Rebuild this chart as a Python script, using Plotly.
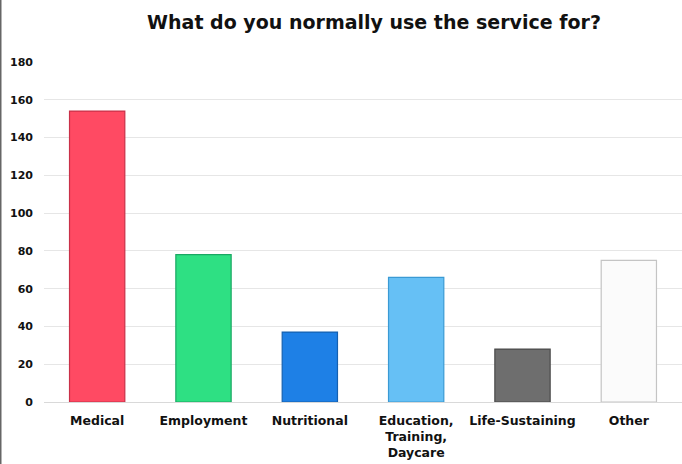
import plotly.graph_objects as go

categories = ["Medical", "Employment", "Nutritional", "Education,<br>Training,<br>Daycare", "Life-Sustaining", "Other"]
values = [154, 78, 37, 66, 28, 75]
colors = ["#ff4a63", "#2ee083", "#1e80e6", "#66c0f5", "#6e6e6e", "#fbfbfb"]
borders = ["#c93048", "#1aa863", "#1560b0", "#3a9ad4", "#4a4a4a", "#c4c4c4"]
y_ticks = [0, 20, 40, 60, 80, 100, 120, 140, 160, 180]

fig = go.Figure(go.Bar(
    x=categories, y=values,
    marker=dict(color=colors, line=dict(color=borders, width=1.2)),
    width=0.52,
))

W, H = 682, 464
ml, mt, mb = 44, 62, 62
fig.update_layout(
    width=W, height=H,
    margin=dict(l=ml, r=0, t=mt, b=mb, autoexpand=False),
    paper_bgcolor="white", plot_bgcolor="white",
    font=dict(family="DejaVu Sans", color="#111111"),
    title=dict(text="<b>What do you normally use the service for?</b>",
               x=374 / W, xanchor="center", y=1 - 22 / H, yanchor="middle",
               font=dict(size=19, family="DejaVu Sans", color="#111111")),
    showlegend=False,
    xaxis=dict(tickfont=dict(size=12.5, family="DejaVu Sans"),
               showline=False, ticks="", showgrid=False,
               ticklabelstandoff=9, automargin=False),
    yaxis=dict(range=[0, 180], tickvals=y_ticks,
               ticktext=[f"<b>{v}</b>" for v in y_ticks],
               tickfont=dict(size=11, family="DejaVu Sans"),
               showgrid=True, gridcolor="#e6e6e6", gridwidth=1,
               zeroline=True, zerolinecolor="#d9d9d9", zerolinewidth=1,
               ticks="", ticklabelstandoff=10, automargin=False),
    shapes=[dict(type="line", xref="paper", yref="paper",
                 x0=-(ml - 0.75) / (W - ml), x1=-(ml - 0.75) / (W - ml),
                 y0=-mb / (H - mt - mb), y1=1 + mt / (H - mt - mb),
                 line=dict(color="#666666", width=1.5))],
)
fig.update_xaxes(ticktext=[f"<b>{c}</b>" for c in categories], tickvals=categories)

fig.write_html("out.html",
               config={"displayModeBar": False},
               post_script="document.body.style.margin='0';document.body.style.overflow='hidden';")
